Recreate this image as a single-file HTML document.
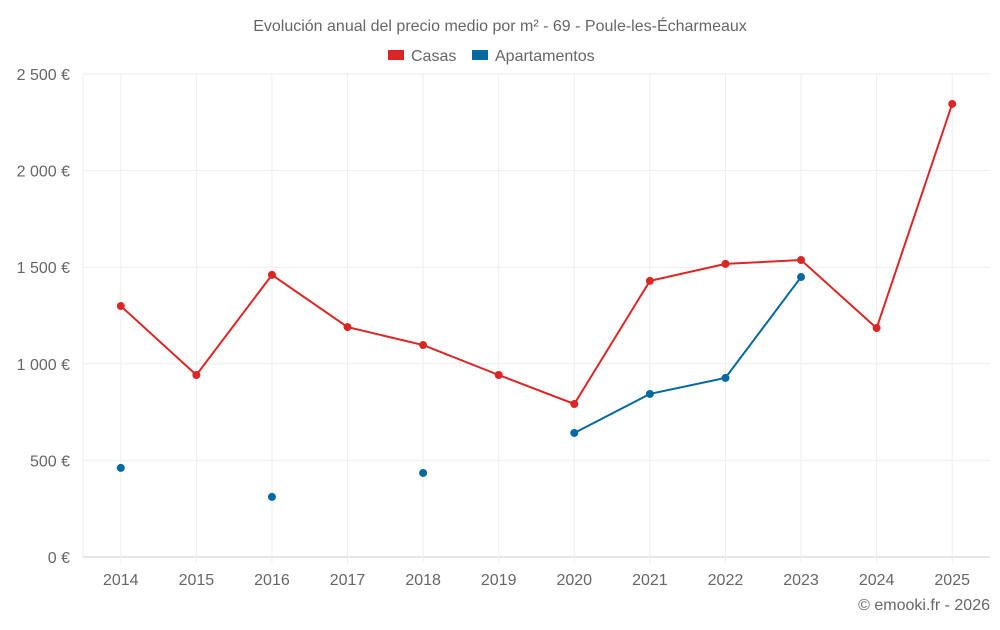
<!DOCTYPE html>
<html><head><meta charset="utf-8"><style>
body{margin:0;background:#fff;font-family:"Liberation Sans",sans-serif}
svg text{font-family:"Liberation Sans",sans-serif;fill:#666}
</style></head><body>
<svg id="c" width="1000" height="625">
<text x="500" y="31" text-anchor="middle" font-size="16">Evolución anual del precio medio por m² - 69 - Poule-les-Écharmeaux</text>
<g>
<rect x="388" y="50" width="16" height="10" fill="#dc2626"/>
<text x="411" y="61" font-size="16">Casas</text>
<rect x="472" y="50" width="16" height="10" fill="#0369a1"/>
<text x="495" y="61" font-size="16">Apartamentos</text>
</g>
<g id="grid"></g><g id="marks"></g>
<text x="990" y="610" text-anchor="end" font-size="16">© emooki.fr - 2026</text>
</svg>
<script>
const years=[2014,2015,2016,2017,2018,2019,2020,2021,2022,2023,2024,2025];
const casas=[1299,942,1460,1190,1097,942,792,1429,1517,1537,1185,2345];
const apartamentos=[461,null,311,null,435,null,642,844,927,1449,null,null];
const yTicks=[0,500,1000,1500,2000,2500];
const yTickLabels=["0 €","500 €","1 000 €","1 500 €","2 000 €","2 500 €"];
const L=83,R=990,T=74,B=557,NS="http://www.w3.org/2000/svg";
const step=(R-L)/years.length;
const x=i=>L+step*(i+0.5);
const y=v=>B-(v/2500)*(B-T);
const g=document.getElementById('grid'),m=document.getElementById('marks');
function mk(p,tag,a){const e=document.createElementNS(NS,tag);for(const k in a)e.setAttribute(k,a[k]);p.appendChild(e);return e;}
yTicks.forEach((v,i)=>{
 const l=mk(g,'line',{x1:L,x2:R,y1:y(v),y2:y(v),stroke:v===0?'#ccc':'#eee'});
 
 
 const t=mk(g,'text',{x:70,y:y(v)+6,'text-anchor':'end','font-size':16});
 t.textContent=yTickLabels[i];
 
 
});
mk(g,'line',{x1:L,x2:L,y1:T,y2:B,stroke:'#eee'});
years.forEach((yr,i)=>{
 const l=mk(g,'line',{x1:x(i),x2:x(i),y1:T,y2:B+6,stroke:'#eee'});
 
 
 const t=mk(g,'text',{x:x(i),y:585,'text-anchor':'middle','font-size':16});
 t.textContent=yr;
 
 
});
function series(vals,color,name){
 let segs=[],cur=[];
 vals.forEach((v,i)=>{if(v==null){if(cur.length)segs.push(cur);cur=[];}else cur.push([x(i),y(v)]);});
 if(cur.length)segs.push(cur);
 segs.forEach(s=>{if(s.length>1){const p=mk(m,'polyline',{points:s.map(q=>q.join(',')).join(' '),fill:'none',stroke:color,'stroke-width':2});
  
  }});
 vals.forEach((v,i)=>{if(v==null)return;const c=mk(m,'circle',{cx:x(i),cy:y(v),r:4,fill:color});
  
  });
}
series(casas,'#dc2626','casas');
series(apartamentos,'#0369a1','apartamentos');
</script>
</body></html>
